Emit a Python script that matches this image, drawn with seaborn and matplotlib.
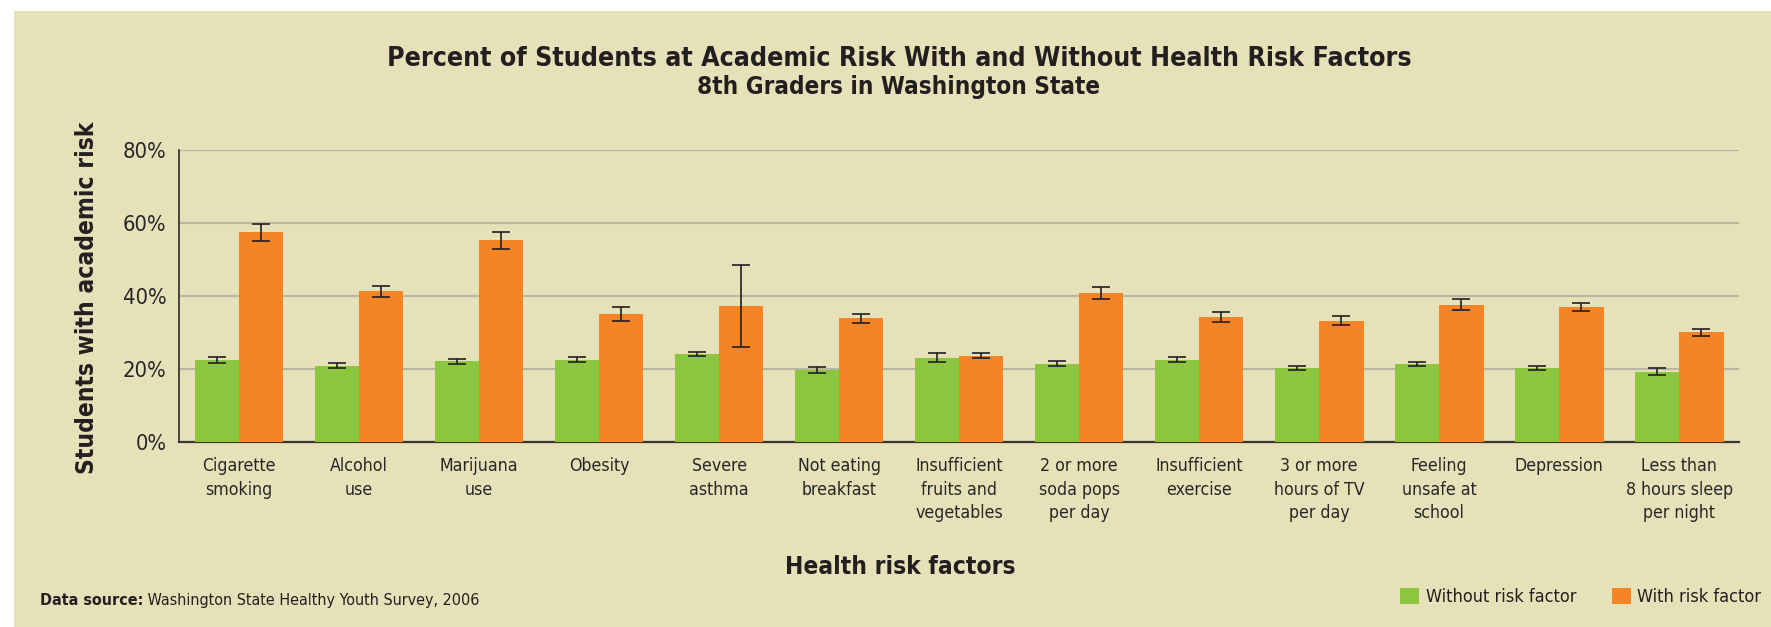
import matplotlib
matplotlib.use("Agg")
import matplotlib.pyplot as plt
from matplotlib import font_manager as fm
from matplotlib.patches import Patch, Rectangle
from matplotlib.ticker import FuncFormatter
import numpy as np
import pandas as pd
import seaborn as sns

# data (8th graders)
factors = ["Cigarette\nsmoking", "Alcohol\nuse", "Marijuana\nuse", "Obesity",
           "Severe\nasthma", "Not eating\nbreakfast",
           "Insufficient\nfruits and\nvegetables", "2 or more\nsoda pops\nper day",
           "Insufficient\nexercise", "3 or more\nhours of TV\nper day",
           "Feeling\nunsafe at\nschool", "Depression",
           "Less than\n8 hours sleep\nper night"]
groups = ["Without risk factor", "With risk factor"]
without_risk = [22.5, 20.9, 22.0, 22.5, 24.1, 19.7, 23.0, 21.4, 22.5, 20.3, 21.3, 20.2, 19.2]
with_risk = [57.4, 41.2, 55.2, 35.0, 37.3, 33.8, 23.6, 40.7, 34.2, 33.2, 37.6, 36.9, 30.0]
without_err = [0.8, 0.7, 0.7, 0.6, 0.6, 0.9, 1.2, 0.6, 0.6, 0.6, 0.6, 0.6, 0.9]
with_err = [2.3, 1.5, 2.4, 2.0, 11.2, 1.2, 0.7, 1.7, 1.4, 1.2, 1.4, 1.1, 0.9]
y_ticks = [0, 20, 40, 60, 80]

GREEN = "#8CC63F"
ORANGE = "#F58427"
BG = "#E6E1B8"
INK = "#231F20"
AXIS = "#3A3833"
GRID = "#B9B7A2"

sns.set_style("white")

# the original uses a condensed gothic face; pick the narrowest one we have
entries = fm.fontManager.ttflist
if any(f.name == "Liberation Sans Narrow" for f in entries):
    plt.rcParams["font.family"] = ["Liberation Sans Narrow", "DejaVu Sans"]
elif any(f.name == "DejaVu Sans" and f.stretch not in ("normal", 500) for f in entries):
    plt.rcParams["font.family"] = ["DejaVu Sans"]
    plt.rcParams["font.stretch"] = "condensed"
else:
    plt.rcParams["font.family"] = ["Liberation Sans", "DejaVu Sans"]
plt.rcParams["text.color"] = INK

df = pd.DataFrame({
    "factor": factors * 2,
    "group": [groups[0]] * len(factors) + [groups[1]] * len(factors),
    "value": without_risk + with_risk,
})

fig = plt.figure(figsize=(17.71, 6.27), dpi=100, facecolor="white")
renderer = fig.canvas.get_renderer()


def size_for(text, width_px, weight="normal"):
    # font size that makes `text` about width_px wide in the chosen face
    t = fig.text(0, 0, text, fontsize=10, fontweight=weight)
    w = t.get_window_extent(renderer).width
    t.remove()
    return 10 * width_px / w


fig.patches.append(Rectangle((14 / 1771, 0), 1, 1 - 11 / 627, transform=fig.transFigure,
                             facecolor=BG, edgecolor="none", zorder=-10))
ax = fig.add_axes([0.1011, 0.2955, 0.9820 - 0.1011, 0.7608 - 0.2955])
ax.set_facecolor(BG)

sns.barplot(data=df, x="factor", y="value", hue="group", order=factors, hue_order=groups,
            palette=[GREEN, ORANGE], saturation=1, width=0.74, gap=0, errorbar=None,
            legend=False, ax=ax, zorder=3, edgecolor="none", linewidth=0)

for cont, err in zip(ax.containers, [without_err, with_err]):
    xs = [b.get_x() + b.get_width() / 2 for b in cont]
    ys = [b.get_height() for b in cont]
    ax.errorbar(xs, ys, yerr=err, fmt="none", ecolor=INK, elinewidth=1.2,
                capsize=6.5, capthick=1.2, zorder=4)

ax.set_xlim(-0.5, len(factors) - 0.5)
ax.set_ylim(0, 80)
ax.set_yticks(y_ticks)
ax.yaxis.set_major_formatter(FuncFormatter(lambda v, p: f"{v:.0f}%"))
ax.yaxis.grid(True, color=GRID, lw=1.6, zorder=0)
ax.set_axisbelow(True)

ax.set_xticks(np.arange(-0.5, len(factors), 1), minor=True)
ax.tick_params(axis="x", which="major", length=0, pad=11,
               labelsize=size_for("Insufficient", 88))
ax.tick_params(axis="x", which="minor", length=6, width=1.3, color=AXIS, direction="out")
ax.tick_params(axis="y", length=5, width=1.3, color=AXIS, labelsize=size_for("80%", 44), pad=4)
for lab in ax.get_xticklabels():
    lab.set_linespacing(1.4)

for s in ["top", "right"]:
    ax.spines[s].set_visible(False)
ax.spines["left"].set_color(AXIS)
ax.spines["left"].set_linewidth(1.3)
ax.spines["bottom"].set_color(AXIS)
ax.spines["bottom"].set_linewidth(1.6)
ax.set_xlabel("")
ax.set_ylabel("")

title = "Percent of Students at Academic Risk With and Without Health Risk Factors"
subtitle = "8th Graders in Washington State"
fig.text(0.5076, 1 - 66 / 627, title, ha="center", va="baseline",
         fontsize=size_for(title, 1019, "bold"), fontweight="bold")
fig.text(0.5076, 1 - 94 / 627, subtitle, ha="center", va="baseline",
         fontsize=size_for(subtitle, 400, "bold"), fontweight="bold")
fig.text(0.5082, 1 - 574 / 627, "Health risk factors", ha="center", va="baseline",
         fontsize=size_for("Health risk factors", 228, "bold"), fontweight="bold")
fig.text(0.0494, 0.5255, "Students with academic risk", rotation=90, ha="center", va="center",
         fontsize=size_for("Students with academic risk", 349, "bold"), fontweight="bold")

src_size = size_for("Data source: Washington State Healthy Youth Survey, 2006", 428)
src = fig.text(40 / 1771, 1 - 605 / 627, "Data source:", ha="left", va="baseline",
               fontsize=src_size, fontweight="bold")
ax.annotate(" Washington State Healthy Youth Survey, 2006", xy=(1, 0), xycoords=src,
            ha="left", va="bottom", fontsize=src_size, annotation_clip=False)

handles = [Patch(facecolor=GREEN, edgecolor="none"), Patch(facecolor=ORANGE, edgecolor="none")]
fig.legend(handles, groups, loc="center right", bbox_to_anchor=(0.9945, 1 - 597 / 627),
           ncol=2, frameon=False, fontsize=size_for(groups[0], 150),
           handlelength=1.05, handleheight=1.05,
           handletextpad=0.35, columnspacing=2.0, borderpad=0, borderaxespad=0)

fig.savefig("out.png", dpi=100, facecolor=fig.get_facecolor())
